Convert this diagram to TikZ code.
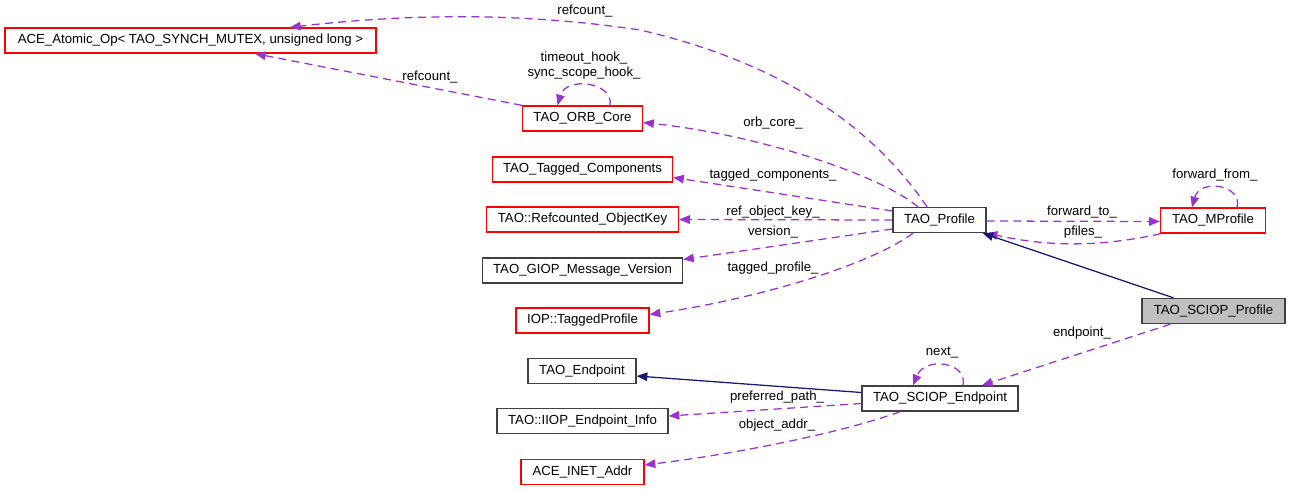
\documentclass[tikz,border=0pt]{standalone}
\usepackage{fontspec}
\setmainfont{Liberation Sans}
\usetikzlibrary{arrows.meta,calc}
\newcommand\labfont{\fontsize{9.9}{11.3}\selectfont}
\definecolor{dorch}{HTML}{9A32CD}
\definecolor{navyb}{HTML}{191970}
\definecolor{boxgray}{HTML}{BFBFBF}
\definecolor{boxblk}{HTML}{404040}
\tikzset{
  box/.style={draw, line width=1pt, minimum height=18.75pt, inner sep=0pt, font=\labfont, text=black},
  redbox/.style={box, draw=red},
  blkbox/.style={box, draw=boxblk},
  member/.style={draw=dorch, line width=0.95pt, dash pattern=on 6pt off 4pt, -{Triangle[length=8pt,width=6.4pt]}},
  inherit/.style={draw=navyb, line width=0.95pt, -{Triangle[length=8pt,width=6.4pt]}},
  lbl/.style={inner sep=0pt, font=\labfont, text=black},
}
\begin{document}
\begin{tikzpicture}[x=0.75pt,y=-0.75pt]
\useasboundingbox (0,0) rectangle (1291,492);
% nodes
\node[redbox, minimum width=278.25pt] (atomic) at (190.5,40.5) {ACE\_Atomic\_Op< TAO\_SYNCH\_MUTEX, unsigned long >};
\node[redbox, minimum width=90pt] (orbcore) at (582.5,118.5) {TAO\_ORB\_Core};
\node[redbox, minimum width=135pt] (tagged) at (582.5,169.5) {TAO\_Tagged\_Components};
\node[redbox, minimum width=144pt] (refkey) at (582.5,219.5) {TAO::Refcounted\_ObjectKey};
\node[blkbox, minimum width=150pt] (giop) at (582.5,270.5) {TAO\_GIOP\_Message\_Version};
\node[redbox, minimum width=99.75pt] (iop) at (582.5,320.5) {IOP::TaggedProfile};
\node[blkbox, minimum width=81pt] (endpoint) at (582,371) {TAO\_Endpoint};
\node[blkbox, minimum width=128.25pt] (iiop) at (582.5,421) {TAO::IIOP\_Endpoint\_Info};
\node[redbox, minimum width=92.25pt] (inet) at (582.5,472) {ACE\_INET\_Addr};
\node[blkbox, minimum width=69.75pt] (profile) at (939.5,220) {TAO\_Profile};
\node[redbox, minimum width=78.75pt] (mprofile) at (1213,220.5) {TAO\_MProfile};
\node[blkbox, fill=boxgray, minimum width=107.25pt] (sciopprof) at (1213.5,311) {TAO\_SCIOP\_Profile};
\node[blkbox, minimum width=117pt] (sciopend) at (940,398.5) {TAO\_SCIOP\_Endpoint};
% connectors
\draw[member] ($(profile.north)+(-12.5,0)$) .. controls (885,145) and (805,68) .. (640,30) .. controls (500,9) and (380,17) .. ($(atomic.north)+(99.5,0)$);
\node[lbl] (l1) at (585,11) {refcount\_};
\draw[member] (orbcore.north west) -- ($(atomic.south)+(64.5,0)$);
\node[lbl] (l2) at (430,77) {refcount\_};
\draw[member] ($(orbcore.north)+(27.5,0)$) .. controls (614,82) and (566,76) .. ($(orbcore.north)+(-25,0)$);
\node[lbl, align=center] (l3) at (584,65.5) {timeout\_hook\_\\sync\_scope\_hook\_};
\draw[member] ($(profile.north)+(-21.5,0)$) .. controls (880,175) and (760,135) .. ($(orbcore.east)+(0,4)$);
\node[lbl] (l4) at (773,123) {orb\_core\_};
\draw[member] ($(profile.west)+(0,-9)$) -- ($(tagged.east)+(0,8)$);
\node[lbl] (l5) at (773,175) {tagged\_components\_};
\draw[member] (profile.west) -- (refkey.east);
\node[lbl] (l6) at (773,212) {ref\_object\_key\_};
\draw[member] ($(profile.west)+(0,9)$) -- ($(giop.east)+(0,-11)$);
\node[lbl] (l7) at (773,232) {version\_};
\draw[member] ($(profile.south)+(-26.5,0)$) .. controls (870,265) and (760,298) .. ($(iop.east)+(0,-6)$);
\node[lbl] (l8) at (773,268) {tagged\_profile\_};
\draw[member] ($(profile.east)+(0,1)$) -- ($(mprofile.west)+(0,1)$);
\node[lbl] (l9) at (1082,212) {forward\_to\_};
\draw[member] ($(mprofile.south west)+(1,0)$) .. controls (1100,247) and (1050,247) .. (profile.south east);
\node[lbl] (l10) at (1083,232) {pfiles\_};
\draw[member] ($(mprofile.north)+(24,0)$) .. controls (1243,185) and (1200,178) .. ($(mprofile.north)+(-21,0)$);
\node[lbl] (l11) at (1215,175) {forward\_from\_};
\draw[inherit] ($(sciopprof.north)+(-40,0)$) -- ($(profile.south east)+(-4,0)$);
\draw[member] ($(sciopprof.south)+(-43,0)$) -- ($(sciopend.north)+(42,0)$);
\node[lbl] (l12) at (1082,333) {endpoint\_};
\draw[member] ($(sciopend.north)+(23,0)$) .. controls (968,362) and (925,356) .. ($(sciopend.north)+(-27,0)$);
\node[lbl] (l13) at (942,353) {next\_};
\draw[inherit] ($(sciopend.west)+(0,-6)$) -- ($(endpoint.east)+(0,5)$);
\draw[member] ($(sciopend.west)+(0,5)$) -- ($(iiop.east)+(0,-5)$);
\node[lbl] (l14) at (777,397) {preferred\_path\_};
\draw[member] ($(sciopend.south)+(-40,0)$) .. controls (850,430) and (750,452) .. ($(inet.east)+(0,-7)$);
\node[lbl] (l15) at (777,425) {object\_addr\_};
\end{tikzpicture}
\end{document}
